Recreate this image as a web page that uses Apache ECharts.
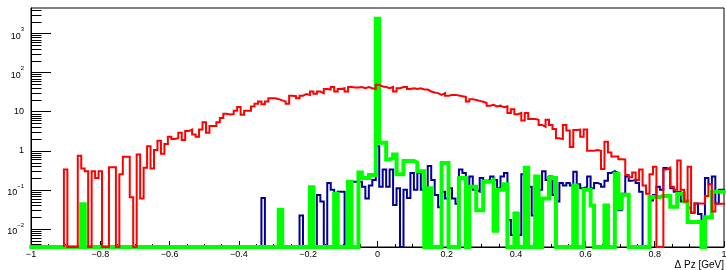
<!DOCTYPE html>
<html>
<head>
<meta charset="utf-8">
<script src="https://cdn.jsdelivr.net/npm/echarts@6.0.0/dist/echarts.min.js"></script>
<style>
  html, body { margin: 0; padding: 0; background: #fff; }
  #chart { width: 726px; height: 270px; }
</style>
</head>
<body>
<div id="chart"></div>
<script>
// bins are centred on -1.00, -0.99, ... 1.00 (201 bins of 0.01)
const BIN_START = -1.0
const BIN_WIDTH = 0.01

const X_MIN = -1
const X_MAX = 1
const Y_MIN = 0.00344
const Y_MAX = 4530

const yTickExponents = [-2, -1, 0, 1, 2, 3]
const xTitle = 'Δ Pz [GeV]'

const redCounts = [
  0, 0, 0, 0, 0, 0, 0, 0, 0, 0,
  0.33, 0, 0, 0, 0.75, 0.35, 0.3, 0, 0.3, 0.2,
  0.3, 0, 0, 0.38, 0.38, 0, 0.25, 0.7, 0.7, 0.065,
  0, 0.8, 0.06, 0.37, 1.3, 0.35, 1.05, 1.8, 0.84, 1.5,
  2.3, 2.0, 2.1, 2.9, 1.9, 3.2, 3.5, 2.6, 2.3, 3.5,
  5.4, 2.9, 4.3, 4.3, 5.4, 6.9, 8.9, 8.5, 8.7, 10.6,
  13.2, 8.4, 10.6, 10.6, 13.7, 16, 18.4, 15.5, 18.4, 22,
  22, 21, 19.5, 18.4, 16, 25.7, 25, 22, 25.7, 28.5,
  27, 33, 29, 33, 30, 38, 37, 43, 33, 38,
  40, 33, 43, 42, 42, 43, 40, 43, 40, 38,
  49, 44, 43, 40, 43, 33, 40, 43, 43, 38,
  40, 38, 40, 37, 37, 33, 31, 30, 27, 30,
  25.7, 27, 27, 26, 25, 24, 18.4, 21, 20, 19,
  18, 16.7, 14.3, 15, 13.7, 14.3, 13, 13.7, 9.3, 11.6,
  8.6, 9.3, 6, 9.3, 6.5, 6.5, 6.2, 4.6, 4.1, 6.2,
  4.6, 3.6, 2.1, 2, 4.6, 3.3, 1.25, 3.4, 3.5, 2.3,
  3.5, 1.0, 1.0, 1.05, 1.0, 0.34, 1.7, 0.9, 0.71, 0.71,
  0.61, 0.6, 0.24, 0.21, 0.28, 0.18, 0.33, 0.13, 0.08, 0.25,
  0.39, 0, 0, 0.33, 0.37, 0.12, 0.1, 0.56, 0.1, 0.05,
  0.39, 0.026, 0.045, 0.045, 0.045, 0.07, 0.14, 0.028, 0.044, 0.044,
  0.044
]

const blueCounts = [
  0, 0, 0, 0, 0, 0, 0, 0, 0, 0,
  0, 0, 0, 0, 0, 0, 0, 0, 0, 0,
  0, 0, 0, 0, 0, 0, 0, 0, 0, 0,
  0, 0, 0, 0, 0, 0, 0, 0, 0, 0,
  0, 0, 0, 0, 0, 0, 0, 0, 0, 0,
  0, 0, 0, 0, 0, 0, 0, 0, 0, 0,
  0, 0, 0, 0, 0, 0, 0, 0.062, 0, 0,
  0, 0, 0, 0, 0, 0, 0, 0, 0.022, 0,
  0, 0, 0, 0.074, 0.05, 0, 0.15, 0.1, 0, 0.09,
  0.09, 0, 0.09, 0.16, 0.16, 0.16, 0.12, 0.06, 0.13, 0.18,
  1.3, 0.12, 0.33, 0.12, 0.33, 0.041, 0.11, 0, 0.1, 0.062,
  0.27, 0.1, 0.27, 0.1, 0.02, 0.41, 0.18, 0.074, 0.036, 0.09,
  0.06, 0.11, 0.06, 0.044, 0.33, 0.27, 0.05, 0.22, 0.1, 0.09,
  0.2, 0.17, 0.18, 0.22, 0.18, 0.11, 0.22, 0.27, 0.017, 0.007,
  0.026, 0.007, 0.25, 0.22, 0.12, 0.022, 0.022, 0.1, 0.3, 0.18,
  0.22, 0.074, 0.05, 0.15, 0.13, 0.15, 0.13, 0.29, 0.14, 0.11,
  0.12, 0.22, 0.11, 0.15, 0.14, 0.12, 0.17, 0.27, 0.3, 0.27,
  0.03, 0.08, 0.22, 0.17, 0.18, 0.15, 0.09, 0, 0, 0.053,
  0.074, 0.12, 0.1, 0.36, 0.33, 0.11, 0.09, 0.09, 0.05, 0.05,
  0.035, 0.026, 0.045, 0.024, 0.014, 0.2, 0.14, 0.22, 0.045, 0.1,
  0.1
]

const greenCounts = [
  0, 0, 0, 0, 0, 0, 0, 0, 0, 0,
  0, 0, 0, 0, 0, 0.043, 0, 0, 0, 0,
  0, 0, 0, 0, 0, 0, 0, 0, 0, 0,
  0, 0, 0, 0, 0, 0, 0, 0, 0, 0,
  0, 0, 0, 0, 0, 0, 0, 0, 0, 0,
  0, 0, 0, 0, 0, 0, 0, 0, 0, 0,
  0, 0, 0, 0, 0, 0, 0, 0, 0, 0,
  0, 0, 0.031, 0, 0, 0, 0, 0, 0, 0,
  0, 0.117, 0, 0, 0, 0, 0, 0, 0.079, 0,
  0, 0, 0.16, 0, 0, 0.28, 0.2, 0.2, 0.24, 0.24,
  2400, 1.6, 1.6, 0.6, 0.65, 0.8, 0.25, 0.25, 0.55, 0.55,
  0.55, 0.5, 0.3, 0.3, 0, 0.11, 0, 0, 0, 0.49,
  0.49, 0, 0, 0, 0.2, 0.2, 0, 0.12, 0.12, 0.03,
  0.03, 0.16, 0.16, 0.18, 0.009, 0.1, 0.1, 0.14, 0, 0,
  0.024, 0, 0, 0.37, 0, 0, 0.22, 0, 0.06, 0.06,
  0.2, 0.2, 0, 0, 0, 0, 0, 0.13, 0, 0,
  0.1, 0.1, 0.04, 0, 0, 0, 0.04, 0, 0, 0.26,
  0.034, 0.075, 0.075, 0, 0, 0, 0, 0, 0, 0.066,
  0.066, 0.066, 0.07, 0.07, 0.07, 0.037, 0.037, 0.08, 0.08, 0.05,
  0.015, 0.015, 0.015, 0.015, 0, 0.02, 0.02, 0.09, 0.09, 0.09,
  0.09
]

// turn bin contents into the points of a step outline (ROOT "hist" style);
// empty bins sit on the frame bottom, leading empty bins can be left out
function stepData(counts, skipLeading) {
  const pts = []
  let started = !skipLeading
  counts.forEach((c, j) => {
    const lo = BIN_START + (j - 0.5) * BIN_WIDTH
    const v = c > 0 ? c : Y_MIN
    if (!started) {
      if (c <= 0) return
      started = true
      pts.push([lo, Y_MIN])
    }
    pts.push([lo, v])
  })
  const last = counts[counts.length - 1]
  pts.push([BIN_START + (counts.length - 0.5) * BIN_WIDTH, last > 0 ? last : Y_MIN])
  return pts
}

function histSeries(name, counts, color, width, skipLeading) {
  return {
    name: name,
    type: 'line',
    step: 'end',
    data: stepData(counts, skipLeading),
    symbol: 'none',
    silent: true,
    animation: false,
    lineStyle: { color: color, width: width, join: 'miter' }
  }
}

// small log ticks at 2..9 x 10^n
const yMinorTicks = []
for (let e = -3; e <= 3; e++) {
  for (let m = 2; m <= 9; m++) {
    const v = m * Math.pow(10, e)
    if (v > Y_MIN && v < Y_MAX) yMinorTicks.push(v)
  }
}

const font = '"Liberation Sans", Arial, sans-serif'
const chart = echarts.init(document.getElementById('chart'), null, { renderer: 'canvas' })

chart.setOption({
  animation: false,
  textStyle: { fontFamily: font },
  grid: {
    left: 31, right: 2, top: 8, bottom: 23,
    containLabel: false,
    outerBoundsMode: 'none',
    show: true,
    borderColor: '#000',
    borderWidth: 1
  },
  xAxis: {
    type: 'value',
    min: X_MIN,
    max: X_MAX,
    interval: 0.2,
    axisLine: { onZero: false, lineStyle: { color: '#000', width: 1 } },
    axisTick: { inside: true, length: 6, lineStyle: { color: '#000' } },
    minorTick: { show: true, splitNumber: 4, length: 3, lineStyle: { color: '#000' } },
    splitLine: { show: false },
    axisLabel: {
      color: '#000',
      fontSize: 9,
      fontFamily: font,
      margin: 3,
      formatter: v => {
        const r = Math.round(v * 10) / 10
        return r < 0 ? '\u2212' + Math.abs(r) : String(r)
      }
    }
  },
  yAxis: {
    type: 'log',
    logBase: 10,
    min: Y_MIN,
    max: Y_MAX,
    axisLine: { onZero: false, lineStyle: { color: '#000', width: 1 } },
    axisTick: { inside: true, length: 20, lineStyle: { color: '#000' } },
    splitLine: { show: false },
    axisLabel: {
      color: '#000',
      fontSize: 9,
      fontFamily: font,
      margin: 7,
      showMinLabel: false,
      showMaxLabel: false,
      formatter: v => {
        const e = Math.round(Math.log10(v))
        if (yTickExponents.indexOf(e) < 0) return ''
        if (e === 0) return '1'
        if (e === 1) return '10'
        return '{b|10}{s|' + (e < 0 ? '\u2212' : '') + Math.abs(e) + '}'
      },
      rich: {
        b: { fontSize: 9, fontFamily: font, color: '#000', lineHeight: 14, verticalAlign: 'bottom' },
        s: { fontSize: 6, fontFamily: font, color: '#000', verticalAlign: 'top' }
      }
    }
  },
  graphic: [{
    type: 'text',
    right: 2,
    bottom: 0,
    style: { text: xTitle, font: '10px ' + font, fill: '#000' }
  }],
  series: [
    histSeries('blue', blueCounts, '#000099', 2, true),
    histSeries('green', greenCounts, '#00ff00', 4, false),
    histSeries('red', redCounts, '#ff0000', 2, true),
    {
      type: 'custom',
      silent: true,
      clip: false,
      data: yMinorTicks.map(v => [X_MIN, v]),
      renderItem: (params, api) => {
        const p = api.coord([X_MIN, api.value(1)])
        const x0 = Math.round(params.coordSys.x) + 0.5
        const y = Math.round(p[1]) + 0.5
        return {
          type: 'line',
          shape: { x1: x0, y1: y, x2: x0 + 10, y2: y },
          style: { stroke: '#000', lineWidth: 1 }
        }
      }
    }
  ]
})
</script>
</body>
</html>
